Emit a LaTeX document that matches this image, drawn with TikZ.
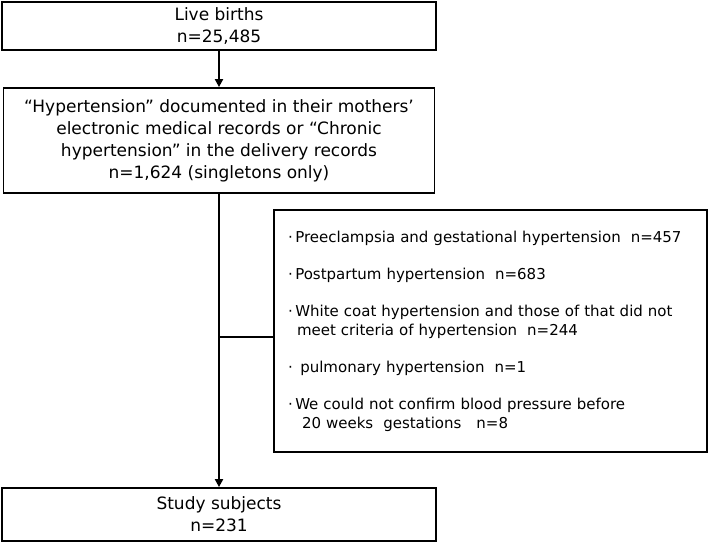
\documentclass[tikz,border=0pt]{standalone}
\usepackage{fontspec}
\setmainfont{DejaVu Sans}
\usetikzlibrary{arrows.meta}

\newcommand{\excldot}{·\hspace{2.5pt}}

\begin{document}
	\begin{tikzpicture}[
		x=1pt, y=-1pt,
		% okvir za korake
		stagebox/.style={draw, line width=1.8pt, inner sep=0pt, align=center,
			font=\fontsize{17}{22}\selectfont},
		flowline/.style={line width=2.4pt},
		flowarrow/.style={flowline, -{Triangle[length=8pt, width=8pt]}}
		]
		\useasboundingbox (0,0) rectangle (709,544);
		\node[stagebox, minimum width=434pt, minimum height=48pt] (births) at (219,26)
			{Live births\\n=25,485};
		\node[stagebox, minimum width=431pt, minimum height=105pt] (hyper) at (219,140.5)
			{“Hypertension” documented in their mothers’\\electronic medical records or “Chronic\\hypertension” in the delivery records\\n=1,624 (singletons only)};
		\node[stagebox, minimum width=433pt, minimum height=242pt, align=left,
			text width=405pt, font=\fontsize{15}{19}\selectfont] (excl) at (490.5,331)
			{\excldot Preeclampsia and gestational hypertension\ \ n=457\\[18pt]
			 \excldot Postpartum hypertension\ \ n=683\\[18pt]
			 \excldot White coat hypertension and those of that did not\\
			 \hspace*{9pt}meet criteria of hypertension\ \ n=244\\[18pt]
			 \excldot\ pulmonary hypertension\ \ n=1\\[18pt]
			 \excldot We could not confirm blood pressure before\\
			 \hspace*{14pt}20 weeks\ \ gestations\ \ \ n=8};
		\node[stagebox, minimum width=434pt, minimum height=53pt] (study) at (219,514.5)
			{Study subjects\\n=231};
		\coordinate (split) at (219,337);
		\draw[flowarrow] (births) -- (hyper);
		\draw[flowarrow] (hyper) -- (study);
		\draw[flowline] (split) -- (split -| excl.west);
	\end{tikzpicture}
\end{document}
